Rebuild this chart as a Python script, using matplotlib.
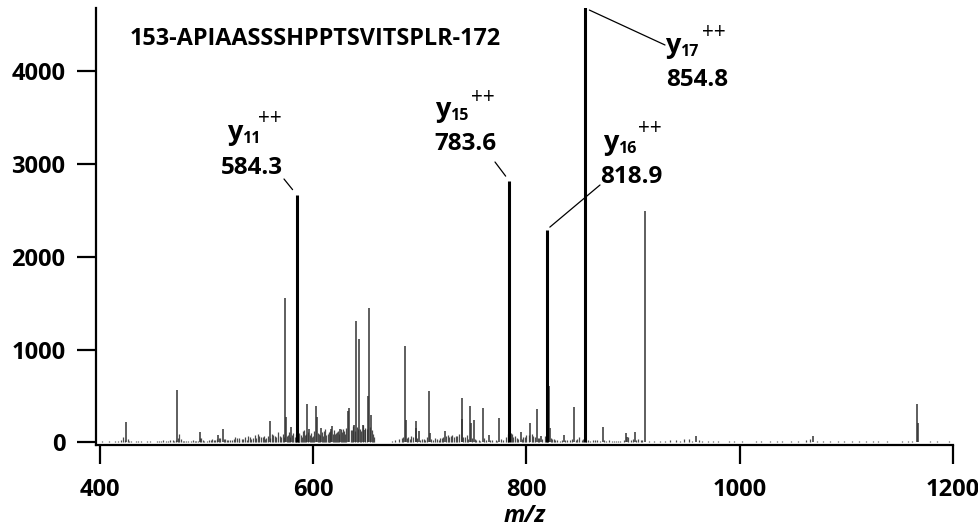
import matplotlib
matplotlib.use('Agg')
import matplotlib.pyplot as plt

plt.rcParams['font.family'] = ['Open Sans', 'DejaVu Sans']

# ---------------- data ----------------
title_text = "153-APIAASSSHPPTSVITSPLR-172"

# labelled y ions (doubly charged)
ion_mz = [584.3, 783.6, 818.9, 854.8]
ion_int = [2670, 2820, 2290, 4700]
ion_sub = ["11", "15", "16", "17"]
ion_lbl = ["584.3", "783.6", "818.9", "854.8"]

# other prominent peaks
peak_mz = [424.6, 472.3, 493.5, 511.0, 515.4, 559.3, 573.4, 574.3, 579.3, 594.0,
           596.2, 602.7, 603.2, 607.7, 617.0, 617.6, 625.0, 632.2, 633.9, 638.5,
           640.0, 643.2, 646.3, 648.2, 651.3, 652.2, 654.4,
           686.3, 686.8, 695.9, 696.5, 699.3, 708.7, 709.2, 723.3, 739.2, 739.7,
           747.0, 747.5, 750.4, 758.9, 764.8, 774.1, 784.2, 794.4, 803.7, 809.4,
           814.0, 821.5, 822.0, 835.5, 844.9, 871.8, 893.6, 894.2, 901.4, 910.8,
           958.5, 1068.8, 1166.7, 1167.2]
peak_int = [220, 570, 110, 86, 148, 234, 1560, 270, 165, 418,
            150, 390, 270, 160, 150, 175, 140, 335, 370, 188,
            1310, 1110, 184, 130, 500, 1445, 292,
            1040, 245, 227, 160, 119, 550, 100, 120, 480, 251,
            390, 210, 245, 370, 85, 263, 160, 115, 212, 360,
            65, 610, 155, 85, 380, 165, 97, 60, 115, 2497,
            72, 72, 410, 210]

# low-level background peaks
noise_mz = [402, 405, 408, 411, 414, 415.5, 417, 420, 422, 423.5, 426, 427.5, 429,
            432, 433.5, 436, 438, 440, 442, 444, 447, 449, 451, 453, 455, 457, 459,
            462, 464, 466, 468, 469, 471, 473, 474, 476, 477.5, 479, 481, 483, 485,
            487, 489, 490, 492, 494, 495, 497, 498, 500, 502, 504, 505, 507, 508,
            510, 512, 513, 516, 517, 519, 520, 522, 524, 526, 527, 528.5, 530, 530.5,
            533, 534.5, 536, 537.5, 539, 540.5, 542, 543.5, 545, 546.5, 548, 549.5,
            551, 552.5, 554, 555, 556, 557.5, 559, 561, 562.5, 564, 565.5, 567,
            568.5, 570, 571.5, 572.5, 575, 576, 577.5, 578.5, 580, 581, 582.5,
            583.5, 585.5, 586.5, 587, 588.5, 589.5, 590, 591, 592, 593, 595, 597,
            598, 599, 600, 601, 604, 605, 606, 608.5, 609.5, 610, 611, 612, 613.5,
            614.5, 615, 616, 618.5, 619.5, 620, 621, 622, 623.5, 624.5, 626, 627,
            628, 629, 630, 631, 635, 636, 637, 639, 641, 642, 644, 645, 647, 649,
            650, 653, 655, 656, 657,
            674, 677, 680, 683, 684.5, 687.5, 689, 690.5, 692, 693.5, 697.5, 700.5,
            702, 703.5, 705, 707, 710.5, 712, 714, 716, 717.5, 719, 720.5, 722,
            724.5, 726, 727.5, 729, 730.5, 732, 733.5, 735, 737, 740.5, 742, 744,
            745, 748.5, 751.5, 753, 755, 756, 760.5, 762, 766, 768, 771, 772.5,
            776, 778, 781, 782.5, 785, 786, 787.5, 789, 791, 792, 795.5, 797,
            798.5, 800, 802, 805, 806, 808, 811, 812, 815, 817, 819.5, 823, 824,
            826, 827, 829, 831, 833, 836.5, 838, 841, 843, 846, 847, 849, 852, 853,
            856, 858, 860, 862, 864, 866, 869, 873, 875, 877, 880, 882, 884, 886,
            888, 891, 895, 898, 900, 903, 905, 907, 908,
            915, 920, 925, 930, 935, 940, 944, 948, 952, 955, 962, 965, 970, 975,
            980, 985, 990, 995, 1002, 1008, 1015, 1020, 1028, 1035, 1040, 1048,
            1055, 1062, 1066, 1072, 1078, 1085, 1092, 1098, 1105, 1112, 1118, 1125,
            1130, 1138, 1145, 1152, 1158, 1162, 1172, 1178, 1185, 1190, 1196]
noise_int = [12, 8, 15, 10, 18, 10, 12, 25, 60, 30, 40, 20, 15,
             10, 12, 14, 15, 8, 10, 20, 12, 10, 10, 12, 16, 20, 22,
             14, 15, 30, 30, 18, 25, 50, 90, 40, 20, 20, 15, 12, 20,
             25, 12, 14, 18, 50, 45, 25, 20, 20, 28, 30, 35, 25, 22,
             40, 50, 45, 35, 40, 25, 30, 30, 25, 40, 60, 50, 45, 30,
             35, 40, 55, 25, 70, 60, 40, 50, 80, 45, 90, 70,
             60, 55, 75, 40, 50, 65, 50, 90, 80, 70, 60, 110,
             75, 60, 90, 60, 70, 80, 110, 60, 80, 100, 60,
             90, 70, 100, 90, 80, 60, 120, 130, 80, 90, 110, 80,
             100, 60, 70, 120, 100, 90, 80, 110, 70, 120, 140, 80, 90,
             110, 100, 120, 90, 130, 90, 100, 110, 120, 90, 150, 110,
             140, 120, 90, 160, 130, 130, 180, 120, 170, 150, 140, 120, 190, 160,
             140, 170, 130, 90, 60,
             20, 30, 40, 50, 60, 50, 60, 40, 70, 60, 50, 30,
             40, 35, 30, 60, 40, 25, 45, 40, 30, 50, 50, 60,
             70, 80, 60, 70, 80, 60, 70, 75, 90, 60, 60, 80,
             40, 50, 40, 30, 30, 20, 50, 25, 30, 30, 25, 20,
             40, 30, 60, 90, 100, 90, 60, 70, 50, 40, 40, 60,
             60, 80, 80, 90, 70, 60, 50, 50, 40, 70, 60, 50, 40,
             40, 25, 30, 20, 30, 30, 30, 25, 40, 30, 40, 60, 30, 40,
             20, 25, 20, 30, 25, 30, 20, 30, 20, 25, 20, 20, 15, 15,
             20, 25, 60, 30, 40, 30, 40, 25, 25,
             15, 12, 20, 18, 25, 30, 20, 40, 35, 20, 30, 15, 20, 12,
             18, 10, 15, 12, 15, 10, 18, 12, 15, 20, 12, 18,
             15, 25, 40, 20, 15, 12, 20, 15, 12, 18, 15, 20,
             12, 15, 10, 18, 12, 15, 10, 15, 12, 10, 14]

x_ticks = [400, 600, 800, 1000, 1200]
y_ticks = [0, 1000, 2000, 3000, 4000]

# ---------------- figure ----------------
W, H = 979, 531
fig = plt.figure(figsize=(W / 100, H / 100), dpi=100)
ax = fig.add_axes([96 / W, 1 - 445 / H, (953 - 96) / W, (445 - 8) / H])
ax.set_xlim(396.25, 1200)
ax.set_ylim(-27, 4678)

ax.vlines(noise_mz, 0, noise_int, color='#4a4a4a', lw=0.9)
ax.vlines(peak_mz, 0, peak_int, color='#333333', lw=1.1)
ax.vlines(ion_mz, 0, ion_int, color='black', lw=2.2)

for s in ['top', 'right']:
    ax.spines[s].set_visible(False)
for s in ['left', 'bottom']:
    ax.spines[s].set_linewidth(1.6)

ax.set_xticks(x_ticks)
ax.set_yticks(y_ticks)
ax.tick_params(axis='both', direction='out', length=14, width=1.6,
               labelsize=17)
ax.tick_params(axis='y', pad=8)
ax.tick_params(axis='x', pad=10)
for lab in ax.get_xticklabels() + ax.get_yticklabels():
    lab.set_fontweight('bold')

ax.set_xlabel('m/z', fontsize=17, fontweight='bold', style='italic', labelpad=1)


def fx(px):
    return px / W


def fy(py):
    return 1 - py / H


fig.text(fx(130), fy(45), title_text, fontsize=16.8, fontweight='bold',
         ha='left', va='baseline')

# label layout (pixel positions): subscript left, y baseline, ++ left, ++ center,
# number left, number baseline, leader start, shrink
layout = [
    (242, 140, 258, 119, 221, 174, (284, 179), 4.5),
    (450, 117, 471, 97.5, 434, 150, (495, 162), 4.0),
    (618, 150, 638, 128, 600, 183, (600, 185), 3.0),
    (680, 53, 702, 32, 666, 86, (665, 45), 3.5),
]

for i, (mz, inten) in enumerate(zip(ion_mz, ion_int)):
    sl, yb, pl, pc, nl, nb, lstart, shrink = layout[i]
    fig.text(fx(sl + 0.5), fy(yb), 'y', fontsize=19.5, fontweight='bold',
             ha='right', va='baseline')
    fig.text(fx(sl), fy(yb + 3), ion_sub[i], fontsize=11.5, fontweight='bold',
             ha='left', va='baseline')
    fig.text(fx(pl), fy(pc), '++', fontsize=15, ha='left', va='center')
    fig.text(fx(nl), fy(nb), ion_lbl[i], fontsize=17.5, fontweight='bold',
             ha='left', va='baseline')
    top = min(inten, ax.get_ylim()[1])
    ax.annotate('', xy=(mz, top), xycoords='data',
                xytext=(lstart[0], H - lstart[1]), textcoords='figure pixels',
                arrowprops=dict(arrowstyle='-', lw=0.9, color='black',
                                shrinkA=0, shrinkB=shrink),
                annotation_clip=False)

fig.savefig('out.png', dpi=100)
